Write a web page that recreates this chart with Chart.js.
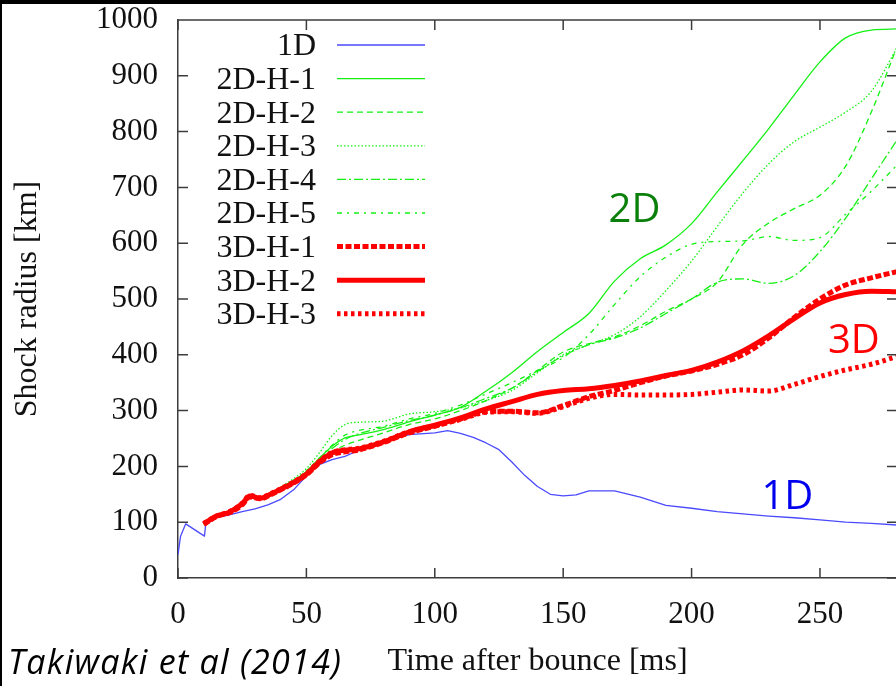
<!DOCTYPE html>
<html>
<head>
<meta charset="utf-8">
<script src="https://cdn.jsdelivr.net/npm/chart.js@4.4.1/dist/chart.umd.min.js"></script>
<style>
  html, body { margin: 0; padding: 0; background: #fff; }
  body { width: 894px; height: 682px; overflow: hidden; border-top: 4px solid #000; border-left: 2px solid #000; }
  canvas { display: block; }
</style>
</head>
<body>
<canvas id="shockChart" width="898" height="682"></canvas>
<script>
// time after bounce [ms] shared by the 2D and 3D runs
const timeGrid = [10, 15, 20, 25, 28, 32, 36, 40, 45, 50, 55, 60, 65, 70, 80, 90, 100,
  110, 120, 130, 140, 150, 160, 170, 180, 190, 200, 210, 220, 230, 240, 250, 260, 270, 280];

// 1D run has its own sampling (starts at bounce)
const time1D = [0, 1, 3, 10.3, 10.8, 15, 20, 25, 30, 35, 40, 45, 50, 55, 60, 65, 70, 80, 90, 100,
  105, 110, 115, 120, 125, 130, 135, 140, 145, 150, 155, 160,
  170, 180, 190, 200, 210, 220, 230, 240, 250, 260, 270, 280];
const radius1D = [42, 75, 97, 75, 96, 108, 113, 119, 124, 131, 141, 158, 183, 203, 212, 218, 228, 244, 257, 260,
  264, 259, 252, 242, 230, 208, 184, 164, 150, 147, 149, 156,
  156, 145, 130, 125, 119, 115, 111, 108, 104, 100, 98, 95];

// shock radius [km], 2D runs
const radius2DH1 = [97, 111, 118, 133, 147, 143, 150, 161, 175, 191, 214, 236, 251, 256, 266, 280, 292,
  306, 335, 368, 406, 440, 474, 532, 572, 597, 635, 692, 748, 805, 866, 925, 968, 982, 984];
const radius2DH2 = [97, 111, 118, 133, 147, 143, 150, 160, 172, 188, 210, 226, 238, 246, 260, 275, 285,
  300, 318, 340, 372, 405, 420, 432, 452, 478, 500, 530, 598, 636, 662, 686, 738, 835, 952];
const radius2DH3 = [97, 111, 118, 133, 147, 143, 150, 163, 178, 196, 224, 255, 275, 279, 281, 294, 298,
  305, 318, 336, 368, 400, 418, 436, 468, 515, 568, 630, 690, 742, 782, 808, 835, 872, 950];
const radius2DH4 = [97, 111, 118, 133, 147, 143, 150, 161, 174, 190, 212, 232, 248, 258, 270, 282, 292,
  305, 322, 340, 370, 398, 418, 430, 448, 474, 500, 530, 536, 528, 542, 585, 645, 715, 785];
const radius2DH5 = [97, 111, 118, 133, 147, 143, 150, 162, 175, 192, 215, 238, 256, 264, 272, 285, 295,
  310, 330, 350, 372, 395, 436, 490, 540, 575, 598, 603, 604, 612, 605, 610, 652, 693, 740];

// shock radius [km], 3D runs
const radius3DH1 = [96, 110, 117, 131, 145, 142, 149, 158, 170, 185, 206, 221, 226, 229, 243, 260, 272,
  285, 298, 299, 296, 309, 325, 336, 350, 362, 371, 383, 400, 430, 467, 500, 525, 538, 549];
const radius3DH2 = [97, 111, 118, 133, 147, 143, 150, 159, 171, 186, 208, 224, 229, 231, 244, 262, 274,
  287, 303, 316, 329, 336, 339, 345, 353, 363, 372, 387, 407, 434, 465, 493, 508, 514, 513];
const radius3DH3 = [98, 111, 119, 134, 148, 144, 151, 160, 172, 187, 209, 225, 230, 232, 245, 262, 273,
  284, 297, 298, 295, 307, 322, 329, 328, 328, 329, 333, 337, 335, 347, 361, 373, 383, 397];

const xTickStep = 50;
const yTickStep = 100;

// text labels placed in the plot, anchored in data units (ms, km)
const groupLabels = ['2D', '3D', '1D'];
const groupLabelTime = [177.8, 263.2, 237.3];
const groupLabelRadius = [658, 423, 144];
const groupLabelColor = ['#0a800a', '#ff0000', '#0000ee'];

const serif = '"Liberation Serif", "Times New Roman", serif';
const axisColor = '#3c3c3c';
const textColor = '#111';
const blue = '#4a4aff';
const green = '#14f014';
const red = '#ff0000';

function toPoints(ts, rs) {
  return ts.map((t, i) => ({ x: t, y: rs[i] }));
}

const datasets = [
  { label: '1D', data: toPoints(time1D, radius1D), borderColor: blue, borderWidth: 1.3, borderDash: [], order: 1, cubicInterpolationMode: 'default', tension: 0 },
  { label: '2D-H-1', data: toPoints(timeGrid, radius2DH1), borderColor: green, borderWidth: 1.3, borderDash: [], order: 2 },
  { label: '2D-H-2', data: toPoints(timeGrid, radius2DH2), borderColor: green, borderWidth: 1.3, borderDash: [6, 4], order: 2 },
  { label: '2D-H-3', data: toPoints(timeGrid, radius2DH3), borderColor: green, borderWidth: 1.3, borderDash: [1.5, 2], order: 2 },
  { label: '2D-H-4', data: toPoints(timeGrid, radius2DH4), borderColor: green, borderWidth: 1.3, borderDash: [9, 3, 2, 3], order: 2 },
  { label: '2D-H-5', data: toPoints(timeGrid, radius2DH5), borderColor: green, borderWidth: 1.3, borderDash: [5, 5, 2, 5], order: 2 },
  { label: '3D-H-1', data: toPoints(timeGrid, radius3DH1), borderColor: red, borderWidth: 5, borderDash: [6, 2.5], order: 0 },
  { label: '3D-H-2', data: toPoints(timeGrid, radius3DH2), borderColor: red, borderWidth: 5, borderDash: [], order: 0 },
  { label: '3D-H-3', data: toPoints(timeGrid, radius3DH3), borderColor: red, borderWidth: 5, borderDash: [3.5, 3.5], order: 0 }
];

// gnuplot-like frame: top border and inward ticks on all four sides
const frameTicks = {
  id: 'frameTicks',
  afterDraw(chart) {
    const { ctx, chartArea: a, scales: { x, y } } = chart;
    const len = 10;
    ctx.save();
    ctx.strokeStyle = axisColor;
    ctx.lineWidth = 1.5;
    ctx.setLineDash([]);
    ctx.beginPath();
    ctx.moveTo(a.left, a.top);
    ctx.lineTo(a.right + 5, a.top);
    x.ticks.forEach(t => {
      const px = x.getPixelForValue(t.value);
      ctx.moveTo(px, a.bottom); ctx.lineTo(px, a.bottom - len);
      ctx.moveTo(px, a.top); ctx.lineTo(px, a.top + len);
    });
    y.ticks.forEach(t => {
      const py = y.getPixelForValue(t.value);
      ctx.moveTo(a.left, py); ctx.lineTo(a.left + len, py);
      ctx.moveTo(a.right, py); ctx.lineTo(a.right - len, py);
    });
    ctx.stroke();
    ctx.restore();
  }
};

// legend in the gnuplot style: right-aligned names, line samples to the right
const legendBox = { right: 314, lineStart: 335, lineEnd: 423, top: 41, row: 33.6 };
const keyLegend = {
  id: 'keyLegend',
  afterDraw(chart) {
    const ctx = chart.ctx;
    ctx.save();
    ctx.font = '32px ' + serif;
    ctx.fillStyle = textColor;
    ctx.textAlign = 'right';
    ctx.textBaseline = 'middle';
    chart.data.datasets.forEach((ds, i) => {
      const yy = legendBox.top + i * legendBox.row;
      ctx.fillText(ds.label, legendBox.right, yy + 2);
      ctx.strokeStyle = ds.borderColor;
      ctx.lineWidth = ds.borderWidth;
      ctx.setLineDash(ds.borderDash || []);
      ctx.beginPath();
      ctx.moveTo(legendBox.lineStart, yy);
      ctx.lineTo(legendBox.lineEnd, yy);
      ctx.stroke();
    });
    ctx.restore();
  }
};

const annotations = {
  id: 'annotations',
  afterDraw(chart) {
    const { ctx, scales: { x, y } } = chart;
    ctx.save();
    ctx.textAlign = 'center';
    ctx.textBaseline = 'middle';
    ctx.font = '40px "Open Sans", "Noto Sans", sans-serif';
    groupLabels.forEach((txt, i) => {
      ctx.fillStyle = groupLabelColor[i];
      ctx.fillText(txt, x.getPixelForValue(groupLabelTime[i]), y.getPixelForValue(groupLabelRadius[i]));
    });
    ctx.fillStyle = '#000';
    ctx.textAlign = 'left';
    ctx.textBaseline = 'alphabetic';
    ctx.font = 'italic 34px "Open Sans", "Noto Sans", sans-serif';
    ctx.letterSpacing = '1.3px';
    ctx.fillText('Takiwaki et al (2014)', 6, 670);
    ctx.restore();
  }
};

new Chart(document.getElementById('shockChart'), {
  type: 'line',
  data: { datasets },
  options: {
    responsive: false,
    animation: false,
    layout: { padding: { top: 16, right: 3, left: 0, bottom: 0 } },
    plugins: { legend: { display: false }, tooltip: { enabled: false } },
    elements: {
      point: { radius: 0 },
      line: { cubicInterpolationMode: 'monotone', borderCapStyle: 'butt', borderJoinStyle: 'round', fill: false }
    },
    scales: {
      x: {
        type: 'linear',
        min: 0,
        max: 280,
        afterFit: s => { s.height = 108; s.paddingLeft = 0; s.paddingRight = 0; },
        grid: { display: false, drawTicks: false },
        border: { display: true, color: axisColor, width: 1.5 },
        ticks: { stepSize: xTickStep, includeBounds: false, padding: 18, maxRotation: 0, color: textColor, font: { family: serif, size: 31 }, callback: v => String(v) },
        title: { display: true, text: 'Time after bounce [ms]', color: textColor, font: { family: serif, size: 32 }, padding: { top: 0, bottom: 5 } }
      },
      y: {
        type: 'linear',
        min: 0,
        max: 1000,
        afterFit: s => { s.width = 176; s.paddingTop = 0; s.paddingBottom = 0; },
        grid: { display: false, drawTicks: false },
        border: { display: true, color: axisColor, width: 1.5 },
        ticks: { stepSize: yTickStep, padding: 20, color: textColor, font: { family: serif, size: 31 }, callback: v => String(v) },
        title: { display: true, text: 'Shock radius [km]', color: textColor, font: { family: serif, size: 32 }, padding: { top: 6, bottom: 0 } }
      }
    }
  },
  plugins: [frameTicks, keyLegend, annotations]
});
</script>
</body>
</html>
